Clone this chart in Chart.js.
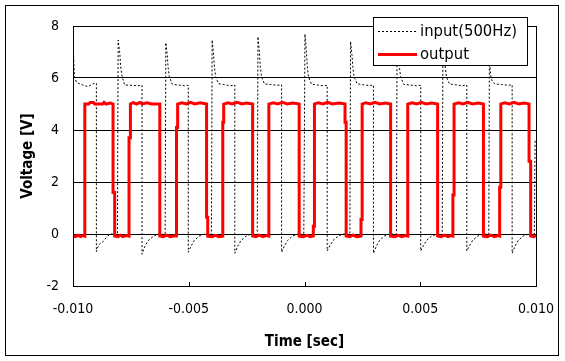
<!DOCTYPE html>
<html><head><meta charset="utf-8">
<script src="https://cdn.jsdelivr.net/npm/chart.js@4.4.0/dist/chart.umd.min.js"></script>
<style>html,body{margin:0;padding:0;background:#fff;}#wrap{width:565px;height:361px;}</style>
</head><body><div id="wrap"><canvas id="c" width="565" height="361"></canvas></div>
<script>
const inputLabel = 'input(500Hz)';
const outputLabel = 'output';
const xTitle = 'Time [sec]';
const yTitle = 'Voltage [V]';
const xTicks = [-0.010, -0.005, 0.000, 0.005, 0.010];
const yTicks = [-2, 0, 2, 4, 6, 8];

// [time (s), voltage (V)]
const inputSeries = [
  [-0.01000, 7.30], [-0.00997, 6.70], [-0.00994, 6.10], [-0.00986, 5.85], [-0.00978, 5.80], [-0.00955, 5.72], [-0.00935, 5.67], [-0.00907, 5.80], [-0.00899, 5.80],
  [-0.00899, -0.68], [-0.00895, -0.55], [-0.00885, -0.38], [-0.00871, -0.30], [-0.00850, -0.07], [-0.00835, 0.00], [-0.00808, -0.02],
  [-0.00805, 7.46], [-0.00798, 6.96], [-0.00794, 6.43], [-0.00789, 6.10], [-0.00777, 5.73], [-0.00750, 5.72], [-0.00720, 5.70], [-0.00702, 5.72],
  [-0.00702, -0.78], [-0.00690, -0.49], [-0.00676, -0.26], [-0.00654, -0.10], [-0.00632, 0.00], [-0.00602, -0.02],
  [-0.00599, 7.36], [-0.00593, 6.90], [-0.00589, 6.40], [-0.00584, 6.05], [-0.00571, 5.76], [-0.00545, 5.73], [-0.00518, 5.70], [-0.00502, 5.72],
  [-0.00502, -0.70], [-0.00490, -0.47], [-0.00476, -0.25], [-0.00455, -0.08], [-0.00430, 0.00], [-0.00402, -0.02],
  [-0.00399, 7.46], [-0.00393, 6.92], [-0.00389, 6.42], [-0.00384, 6.05], [-0.00371, 5.78], [-0.00345, 5.74], [-0.00318, 5.70], [-0.00301, 5.73],
  [-0.00301, -0.74], [-0.00289, -0.48], [-0.00275, -0.26], [-0.00254, -0.09], [-0.00230, 0.00], [-0.00204, -0.02],
  [-0.00201, 7.59], [-0.00195, 7.00], [-0.00191, 6.45], [-0.00186, 6.05], [-0.00173, 5.77], [-0.00146, 5.75], [-0.00118, 5.72], [-0.00099, 5.74],
  [-0.00099, -0.70], [-0.00087, -0.46], [-0.00073, -0.25], [-0.00052, -0.08], [-0.00028, 0.00], [-0.00003, -0.02],
  [0.00002, 7.69], [0.00008, 7.05], [0.00012, 6.45], [0.00017, 6.05], [0.00030, 5.76], [0.00055, 5.73], [0.00082, 5.70], [0.00098, 5.72],
  [0.00098, -0.65], [0.00110, -0.45], [0.00124, -0.24], [0.00145, -0.08], [0.00170, 0.00], [0.00196, -0.02],
  [0.00199, 7.40], [0.00205, 6.90], [0.00209, 6.40], [0.00214, 6.05], [0.00227, 5.78], [0.00253, 5.74], [0.00280, 5.71], [0.00298, 5.73],
  [0.00298, -0.74], [0.00310, -0.47], [0.00324, -0.25], [0.00345, -0.08], [0.00370, 0.00], [0.00397, -0.02],
  [0.00400, 7.55], [0.00406, 6.95], [0.00410, 6.42], [0.00415, 6.05], [0.00428, 5.76], [0.00455, 5.73], [0.00483, 5.70], [0.00502, 5.72],
  [0.00502, -0.65], [0.00514, -0.44], [0.00528, -0.24], [0.00549, -0.08], [0.00574, 0.00], [0.00595, -0.02],
  [0.00598, 7.50], [0.00604, 6.95], [0.00608, 6.42], [0.00613, 6.05], [0.00626, 5.77], [0.00652, 5.74], [0.00681, 5.70], [0.00701, 5.73],
  [0.00701, -0.65], [0.00713, -0.45], [0.00727, -0.24], [0.00748, -0.08], [0.00773, 0.00], [0.00796, -0.02],
  [0.00799, 7.50], [0.00802, 6.30], [0.00806, 6.00], [0.00812, 5.85], [0.00823, 5.77], [0.00850, 5.75], [0.00880, 5.72], [0.00897, 5.74],
  [0.00897, -0.74], [0.00909, -0.47], [0.00923, -0.25], [0.00944, -0.08], [0.00968, 0.00], [0.00993, -0.02], [0.00996, 3.60]
];

const outputSeries = [
  [-0.01000, -0.08], [-0.00990, -0.10], [-0.00978, -0.05], [-0.00968, -0.10], [-0.00955, -0.06], [-0.00949, -0.08],
  [-0.00949, 5.00], [-0.00932, 5.00], [-0.00926, 5.06], [-0.00912, 5.06], [-0.00906, 5.00], [-0.00872, 5.00], [-0.00866, 5.06], [-0.00858, 5.00], [-0.00838, 5.04], [-0.00827, 5.00],
  [-0.00827, 1.60], [-0.00820, 1.60], [-0.00820, -0.08], [-0.00805, -0.10], [-0.00795, -0.05], [-0.00785, -0.10], [-0.00770, -0.06], [-0.00758, -0.08],
  [-0.00758, 3.70], [-0.00752, 3.70], [-0.00752, 5.00], [-0.00740, 5.05], [-0.00725, 5.00], [-0.00712, 5.06], [-0.00700, 5.00], [-0.00680, 5.05], [-0.00660, 5.00], [-0.00625, 5.00],
  [-0.00625, -0.08], [-0.00610, -0.10], [-0.00595, -0.04], [-0.00580, -0.10], [-0.00565, -0.08], [-0.00553, -0.08],
  [-0.00553, 4.10], [-0.00548, 4.10], [-0.00548, 5.00], [-0.00530, 5.05], [-0.00510, 5.00], [-0.00492, 5.06], [-0.00475, 5.00], [-0.00450, 5.05], [-0.00423, 5.00],
  [-0.00423, 0.64], [-0.00418, 0.64], [-0.00418, -0.08], [-0.00400, -0.10], [-0.00385, -0.05], [-0.00370, -0.10], [-0.00353, -0.08],
  [-0.00353, 4.30], [-0.00349, 4.30], [-0.00349, 5.00], [-0.00330, 5.05], [-0.00312, 5.00], [-0.00290, 5.06], [-0.00270, 5.00], [-0.00250, 5.04], [-0.00224, 5.00],
  [-0.00224, -0.08], [-0.00210, -0.10], [-0.00195, -0.04], [-0.00180, -0.10], [-0.00165, -0.06], [-0.00154, -0.08],
  [-0.00154, 5.00], [-0.00135, 5.05], [-0.00115, 5.00], [-0.00095, 5.06], [-0.00075, 5.00], [-0.00050, 5.04], [-0.00023, 5.00],
  [-0.00023, -0.08], [-0.00005, -0.10], [0.00010, -0.05], [0.00025, -0.10], [0.00038, -0.08],
  [0.00038, 0.30], [0.00043, 0.30], [0.00043, 5.00], [0.00060, 5.05], [0.00080, 5.00], [0.00100, 5.06], [0.00120, 5.00], [0.00150, 5.04], [0.00175, 5.00],
  [0.00175, 4.30], [0.00180, 4.30], [0.00180, -0.08], [0.00195, -0.10], [0.00210, -0.04], [0.00225, -0.10], [0.00244, -0.08],
  [0.00244, 0.56], [0.00249, 0.56], [0.00249, 5.00], [0.00265, 5.05], [0.00285, 5.00], [0.00305, 5.06], [0.00325, 5.00], [0.00350, 5.04], [0.00372, 5.00],
  [0.00372, -0.08], [0.00390, -0.10], [0.00405, -0.05], [0.00420, -0.10], [0.00435, -0.06], [0.00446, -0.08],
  [0.00446, 5.00], [0.00465, 5.05], [0.00485, 5.00], [0.00505, 5.06], [0.00525, 5.00], [0.00550, 5.04], [0.00575, 5.00],
  [0.00575, -0.08], [0.00590, -0.10], [0.00605, -0.04], [0.00620, -0.10], [0.00633, -0.06], [0.00641, -0.08],
  [0.00641, 1.50], [0.00646, 1.50], [0.00646, 5.00], [0.00665, 5.05], [0.00685, 5.00], [0.00705, 5.06], [0.00725, 5.00], [0.00750, 5.04], [0.00773, 5.00],
  [0.00773, -0.08], [0.00790, -0.10], [0.00805, -0.04], [0.00820, -0.10], [0.00835, -0.06], [0.00843, -0.08],
  [0.00843, 1.80], [0.00848, 1.80], [0.00848, 5.00], [0.00865, 5.05], [0.00885, 5.00], [0.00905, 5.06], [0.00925, 5.00], [0.00950, 5.04], [0.00970, 5.00],
  [0.00970, 2.80], [0.00977, 2.80], [0.00977, -0.08], [0.00990, -0.10], [0.01000, -0.06]
];

const FONT = '"DejaVu Sans Condensed", "DejaVu Sans"';
const toXY = arr => arr.map(p => ({ x: p[0], y: p[1] }));

const framePlugin = {
  id: 'frame',
  beforeDraw(chart) {
    const ctx = chart.ctx;
    ctx.save();
    ctx.fillStyle = '#fff';
    ctx.fillRect(0, 0, chart.width, chart.height);
    ctx.restore();
  },
  afterDraw(chart) {
    const { ctx, chartArea: a, scales: { x } } = chart;
    ctx.save();
    ctx.strokeStyle = '#000';
    ctx.lineWidth = 1;
    ctx.setLineDash([]);
    // plot border
    ctx.strokeRect(Math.round(a.left) + 0.5, Math.round(a.top) + 0.5, Math.round(a.right - a.left), Math.round(a.bottom - a.top));
    // inward x tick marks
    xTicks.forEach(v => {
      const px = Math.round(x.getPixelForValue(v)) + 0.5;
      ctx.beginPath();
      ctx.moveTo(px, Math.round(a.bottom));
      ctx.lineTo(px, Math.round(a.bottom) - 4);
      ctx.stroke();
    });
    // outer frame
    ctx.strokeRect(5.5, 5.5, 553, 350);
    // legend
    const lx = 373, ly = 17, lw = 154, lh = 48;
    ctx.fillStyle = '#fff';
    ctx.fillRect(lx, ly, lw, lh);
    ctx.strokeRect(lx + 0.5, ly + 0.5, lw, lh);
    const ds = chart.data.datasets;
    const rows = [31, 54];
    ctx.font = '16.5px ' + FONT;
    ctx.textBaseline = 'middle';
    ctx.textAlign = 'left';
    ds.forEach((d, i) => {
      const y = rows[i];
      ctx.save();
      ctx.strokeStyle = d.borderColor;
      ctx.lineWidth = d.borderWidth;
      ctx.setLineDash(d.borderDash || []);
      const yy = d.borderWidth % 2 ? y + 0.5 : y;
      ctx.beginPath();
      ctx.moveTo(378, yy);
      ctx.lineTo(417, yy);
      ctx.stroke();
      ctx.restore();
      ctx.fillStyle = '#000';
      ctx.fillText(d.label, 420, y + 1);
    });
    ctx.restore();
  }
};

new Chart(document.getElementById('c'), {
  type: 'scatter',
  data: {
    datasets: [
      {
        label: inputLabel,
        data: toXY(inputSeries),
        showLine: true,
        borderColor: '#000000',
        borderWidth: 1,
        borderDash: [2, 2],
        pointRadius: 0,
        tension: 0,
        order: 2
      },
      {
        label: outputLabel,
        data: toXY(outputSeries),
        showLine: true,
        borderColor: '#ff0000',
        borderWidth: 3,
        pointRadius: 0,
        tension: 0,
        borderJoinStyle: 'miter',
        order: 1
      }
    ]
  },
  options: {
    responsive: false,
    animation: false,
    devicePixelRatio: 1,
    layout: { padding: { left: 0, top: 26, right: 29, bottom: 0 } },
    plugins: { legend: { display: false }, tooltip: { enabled: false }, title: { display: false } },
    scales: {
      x: {
        type: 'linear',
        min: -0.01, max: 0.01,
        afterBuildTicks: s => { s.ticks = xTicks.map(v => ({ value: v })); },
        afterFit: s => { s.height = 75; s.paddingLeft = 0; s.paddingRight = 0; },
        grid: { display: false, drawTicks: false },
        border: { display: false },
        ticks: {
          padding: 15,
          color: '#000',
          font: { family: FONT, size: 14 },
          maxRotation: 0,
          callback: v => (Math.abs(v) < 1e-12 ? 0 : v).toFixed(3)
        },
        title: { display: true, text: xTitle, color: '#000', font: { family: FONT, size: 15, weight: 'bold' }, padding: { top: 0, bottom: 10 } }
      },
      y: {
        type: 'linear',
        min: -2, max: 8,
        afterBuildTicks: s => { s.ticks = yTicks.map(v => ({ value: v })); },
        afterFit: s => { s.width = 73; s.paddingTop = 0; s.paddingBottom = 0; },
        grid: { color: '#000', lineWidth: 1, drawTicks: false },
        border: { display: false },
        ticks: { padding: 14, color: '#000', font: { family: FONT, size: 14 }, callback: v => String(v) },
        title: { display: true, text: yTitle, color: '#000', font: { family: FONT, size: 15, weight: 'bold' }, padding: { top: 19, bottom: 0 } }
      }
    }
  },
  plugins: [framePlugin]
});
</script>
</body></html>
